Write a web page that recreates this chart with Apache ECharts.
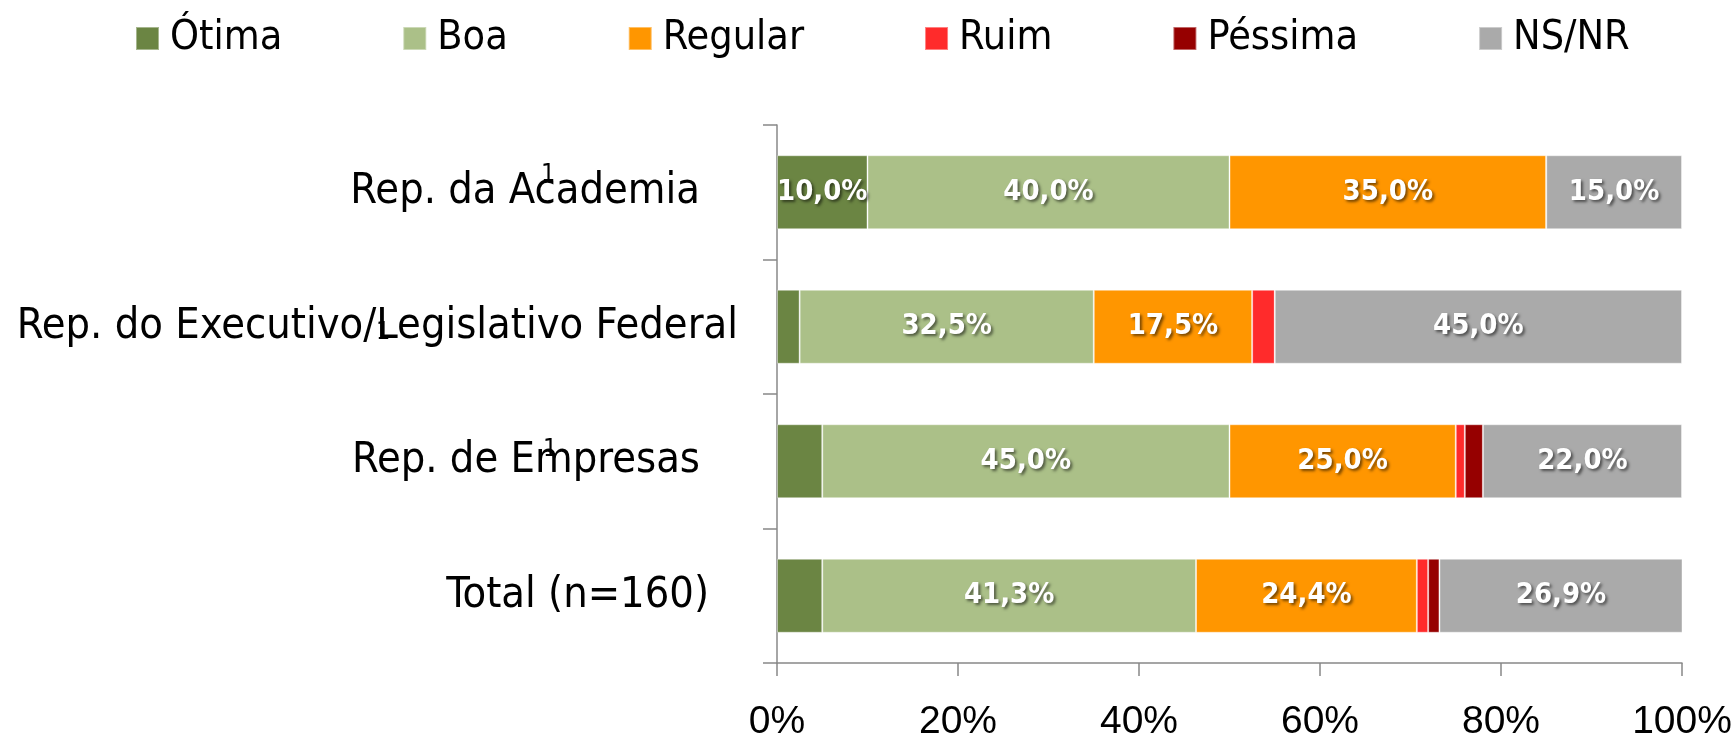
<!DOCTYPE html>
<html>
<head>
<meta charset="utf-8">
<script src="https://cdn.jsdelivr.net/npm/echarts@6/dist/echarts.min.js"></script>
<style>
    html, body {margin: 0; padding: 0; background: #fff;}
    #chart {width: 1734px; height: 736px;}
</style>
</head>
<body>
<div id="chart"></div>
<script>
// categories, top to bottom
const categories = [
    'Rep. da Academia',
    'Rep. do Executivo/Legislativo Federal',
    'Rep. de Empresas',
    'Total (n=160)'
];
// extra right padding of each category label (label ends are not aligned in the original)
const labelPad = [38, 0, 38, 29];

const seriesNames = ['Ótima', 'Boa', 'Regular', 'Ruim', 'Péssima', 'NS/NR'];
const colors = ['#6b8543', '#abc088', '#ff9600', '#ff2b2b', '#960000', '#aaaaaa'];

// percentages per category
const otima = [10.0, 2.5, 5.0, 5.0];
const boa = [40.0, 32.5, 45.0, 41.3];
const regular = [35.0, 17.5, 25.0, 24.4];
const ruim = [0, 2.5, 1.0, 1.25];
const pessima = [0, 0, 2.0, 1.25];
const nsnr = [15.0, 45.0, 22.0, 26.9];

const xTicks = [0, 20, 40, 60, 80, 100];

const values = [otima, boa, regular, ruim, pessima, nsnr];

const labelFont = "'DejaVu Sans Condensed', 'Noto Sans', sans-serif";

let chart = echarts.init(document.getElementById('chart'));

const rich = {};
labelPad.forEach((p, i) => {
    rich['c' + i] = {
        fontFamily: labelFont,
        fontSize: 43,
        color: '#000',
        padding: [0, p, 0, 0]
    };
});

const option = {
    animation: false,
    legend: {
        data: seriesNames,
        left: 130,
        top: 13,
        itemWidth: 23,
        itemHeight: 23,
        itemGap: 120,
        icon: 'rect',
        textStyle: {
            fontFamily: labelFont,
            fontSize: 41,
            color: '#000',
            padding: [0, 0, 0, 6]
        }
    },
    grid: {
        left: 777,
        right: 52,
        top: 125,
        bottom: 73,
        outerBoundsMode: 'none'
    },
    xAxis: {
        type: 'value',
        min: xTicks[0],
        max: xTicks[xTicks.length - 1],
        interval: 20,
        axisLine: {show: true, lineStyle: {color: '#888', width: 1.5}},
        axisTick: {show: true, length: 13, lineStyle: {color: '#888', width: 1.5}},
        splitLine: {show: false},
        axisLabel: {
            margin: 40,
            fontFamily: "'Liberation Sans Narrow', 'Liberation Sans', sans-serif",
            fontSize: 39,
            color: '#000',
            formatter: '{value}%'
        }
    },
    yAxis: {
        type: 'category',
        inverse: true,
        data: categories,
        axisLine: {show: true, lineStyle: {color: '#888', width: 1.5}},
        axisTick: {show: true, length: 14, lineStyle: {color: '#888', width: 1.5}},
        axisLabel: {
            margin: 39,
            formatter: (v, i) => '{c' + i + '|' + v + '}',
            rich: rich
        }
    },
    series: seriesNames.map((name, k) => ({
        name: name,
        type: 'bar',
        stack: 'total',
        barWidth: '55%',
        data: values[k],
        itemStyle: {
            color: colors[k],
            borderColor: 'rgba(255,255,255,0.4)',
            borderWidth: 1
        },
        label: {
            show: true,
            position: 'inside',
            fontFamily: labelFont,
            fontWeight: 'bold',
            fontSize: 29,
            color: '#fff',
            textShadowColor: 'rgba(0,0,0,0.55)',
            textShadowBlur: 3,
            textShadowOffsetX: 2,
            textShadowOffsetY: 2,
            formatter: p => p.value >= 10 ? p.value.toFixed(1).replace('.', ',') + '%' : ''
        }
    })),
    // stray footnote markers "1" from the original slide
    graphic: [
        {type: 'text', left: 541, top: 162, style: {text: '1', fontFamily: labelFont, fontSize: 25, fill: '#000'}},
        {type: 'text', left: 376, top: 320, style: {text: '1', fontFamily: labelFont, fontSize: 25, fill: '#000'}},
        {type: 'text', left: 543, top: 437, style: {text: '1', fontFamily: labelFont, fontSize: 25, fill: '#000'}}
    ]
};

chart.setOption(option);

window.addEventListener('resize', function () {
    chart.resize();
});
</script>
</body>
</html>
